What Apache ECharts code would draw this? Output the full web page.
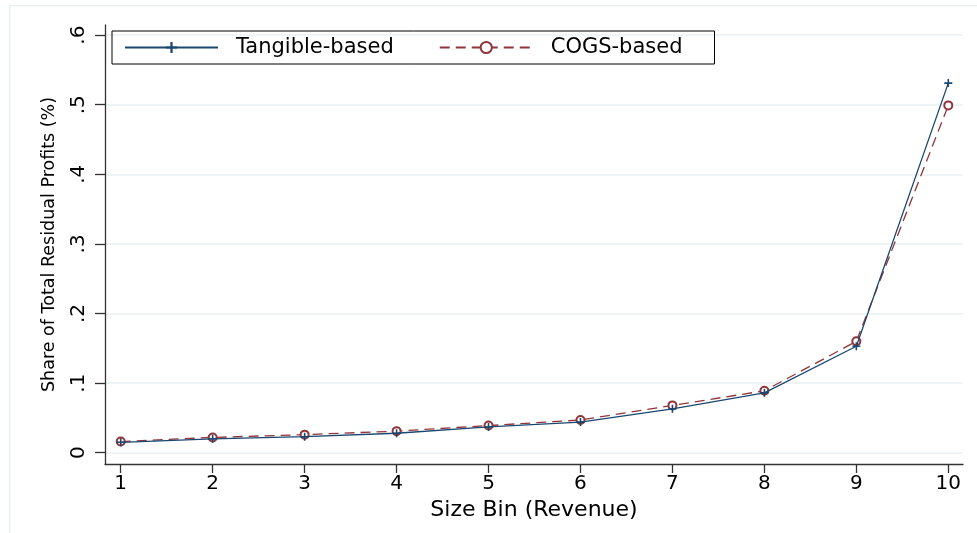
<!DOCTYPE html>
<html>
<head>
<meta charset="utf-8">
<script src="https://cdn.jsdelivr.net/npm/echarts@6/dist/echarts.min.js"></script>
<style>html,body{margin:0;padding:0;background:#fff;}#c{width:977px;height:533px;}</style>
</head>
<body>
<div id="c"></div>
<script>
const bins = [1, 2, 3, 4, 5, 6, 7, 8, 9, 10];
const tangible = [0.015, 0.020, 0.023, 0.028, 0.037, 0.044, 0.063, 0.086, 0.153, 0.531];
const cogs = [0.016, 0.022, 0.026, 0.031, 0.039, 0.047, 0.068, 0.089, 0.160, 0.499];
const yTicks = [0, 0.1, 0.2, 0.3, 0.4, 0.5, 0.6];
const yTickLabels = ['0', '.1', '.2', '.3', '.4', '.5', '.6'];
const xTicks = [1, 2, 3, 4, 5, 6, 7, 8, 9, 10];

const FONT = '"DejaVu Sans", "Liberation Sans", Arial, sans-serif';
const navy = '#1a476f';
const maroon = '#90353b';
const plusPath = 'path://M-1,-5L1,-5L1,-1L5,-1L5,1L1,1L1,5L-1,5L-1,1L-5,1L-5,-1L-1,-1Z';

const chart = echarts.init(document.getElementById('c'), null, {renderer: 'canvas'});
chart.setOption({
  backgroundColor: '#ffffff',
  animation: false,
  graphic: [{
    type: 'rect', left: 9, top: 5, z: -10,
    shape: {width: 975, height: 535},
    style: {fill: '#ffffff', stroke: '#e8eff1', lineWidth: 1.5}
  }],
  grid: {left: 105, right: 14, top: 25, bottom: 69, containLabel: false},
  legend: {
    left: 112, top: 31,
    borderColor: '#000', borderWidth: 1,
    padding: [6, 32, 6, 12],
    itemWidth: 93, itemHeight: 14, itemGap: 45,
    textStyle: {fontFamily: FONT, fontSize: 21, color: '#000', padding: [0, 0, 0, 13], lineHeight: 21},
    data: ['Tangible-based', 'COGS-based']
  },
  xAxis: {
    type: 'value', min: 0.829, max: 10.16,
    name: 'Size Bin (Revenue)', nameLocation: 'middle', nameGap: 30,
    nameTextStyle: {fontFamily: FONT, fontSize: 22, color: '#000'},
    axisLine: {show: true, onZero: false, lineStyle: {color: '#333', width: 1.3}},
    axisTick: {show: true, length: 9, customValues: xTicks, lineStyle: {color: '#333', width: 1.3}},
    axisLabel: {customValues: xTicks, fontFamily: FONT, fontSize: 20, color: '#000', margin: 10,
      formatter: v => String(Math.round(v))},
    splitLine: {show: false}
  },
  yAxis: {
    type: 'value', min: -0.0162, max: 0.6145,
    name: 'Share of Total Residual Profits (%)', nameLocation: 'middle', nameGap: 47,
    nameTextStyle: {fontFamily: FONT, fontSize: 17.5, color: '#000'},
    axisLine: {show: true, onZero: false, lineStyle: {color: '#333', width: 1.3}},
    axisTick: {show: true, length: 10, customValues: yTicks, lineStyle: {color: '#333', width: 1.3}},
    axisLabel: {customValues: yTicks, rotate: 90, fontFamily: FONT, fontSize: 20, color: '#000', margin: 16,
      formatter: v => { const i = yTicks.findIndex(t => Math.abs(t - v) < 1e-6); return i >= 0 ? yTickLabels[i] : ''; }},
    splitLine: {show: true, lineStyle: {color: '#eaf2f3', width: 1.5}}
  },
  series: [
    {
      name: 'Tangible-based', type: 'line',
      data: bins.map((b, i) => [b, tangible[i]]),
      symbol: plusPath, symbolSize: 8, showAllSymbol: true,
      lineStyle: {color: navy, width: 1.3},
      itemStyle: {color: navy},
      z: 3
    },
    {
      name: 'COGS-based', type: 'line',
      data: bins.map((b, i) => [b, cogs[i]]),
      symbol: 'emptyCircle', symbolSize: 8, showAllSymbol: true,
      lineStyle: {color: maroon, width: 1.3, type: [10, 6]},
      itemStyle: {color: maroon, borderColor: maroon, borderWidth: 2},
      z: 2
    }
  ]
});
</script>
</body>
</html>
